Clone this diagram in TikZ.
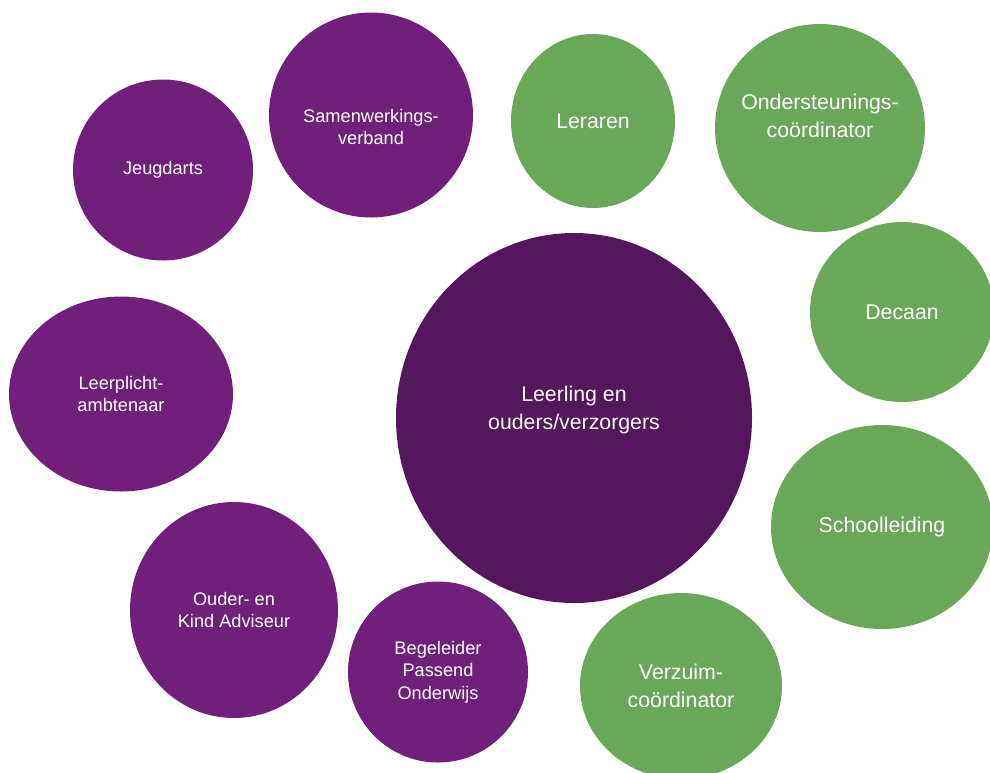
\documentclass[tikz,border=0pt]{standalone}
\usepackage{fontspec}
\setmainfont{Liberation Sans}
\usepackage{tikz}
\usetikzlibrary{shapes.geometric}
\definecolor{bubblepurple}{HTML}{701F7A}
\definecolor{corepurple}{HTML}{54165C}
\definecolor{bubblegreen}{HTML}{6AA859}
\newcommand{\smalltxt}{\fontsize{18.2}{22.5}\selectfont}
\newcommand{\bigtxt}{\fontsize{21.3}{27.5}\selectfont}

\begin{document}
\begin{tikzpicture}[x=1pt, y=-1pt,
  bubble/.style={ellipse, inner sep=0pt, text=white, align=center},
  partner/.style={bubble, fill=bubblepurple, font=\smalltxt},
  school/.style={bubble, fill=bubblegreen, font=\bigtxt},
  lbl/.style={text=white, align=center, inner sep=0pt}]
\clip (0,0) rectangle (990,772);
\node[bubble, fill=corepurple, minimum width=356, minimum height=370,
  label={[lbl, font=\bigtxt, yshift=8]center:Leerling en\\ouders/verzorgers}] (leerling) at (574,418) {};
\node[partner, minimum width=180, minimum height=181] (jeugd) at (163,170) {Jeugdarts};
\node[partner, minimum width=204, minimum height=205,
  label={[lbl, font=\smalltxt, yshift=-12]center:Samenwerkings-\\verband}] (samen) at (371,115) {};
\node[partner, minimum width=224, minimum height=195] (leerpl) at (121,394) {Leerplicht-\\ambtenaar};
\node[partner, minimum width=208, minimum height=216] (ouderkind) at (234,610) {Ouder- en\\Kind Adviseur};
\node[partner, minimum width=180, minimum height=181] (begel) at (438,672) {Begeleider\\Passend\\Onderwijs};
\node[school, minimum width=164, minimum height=174] (leraren) at (593,121) {Leraren};
\node[school, minimum width=210, minimum height=208,
  label={[lbl, font=\bigtxt, yshift=12]center:Ondersteunings-\\coördinator}] (onderst) at (820,128) {};
\node[school, minimum width=184, minimum height=180] (decaan) at (902,312) {Decaan};
\node[school, minimum width=222, minimum height=204] (leiding) at (882,527) {Schoolleiding};
\node[school, minimum width=202, minimum height=186] (verzuim) at (681,686) {Verzuim-\\coördinator};
\end{tikzpicture}
\end{document}
